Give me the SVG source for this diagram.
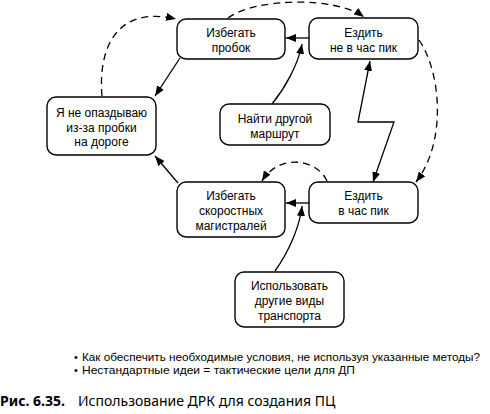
<svg xmlns="http://www.w3.org/2000/svg" width="490" height="414" viewBox="0 0 490 414">
<style>
.box{fill:#fff;stroke:#000;stroke-width:1.4}
.t{font-family:"Liberation Sans","Noto Sans","DejaVu Sans",sans-serif;font-size:12px;fill:#000;text-anchor:middle}
.c{fill:none;stroke:#000;stroke-width:1.3}
.d{fill:none;stroke:#000;stroke-width:1.3;stroke-dasharray:7 5}
.n{font-family:"Liberation Sans","Noto Sans","DejaVu Sans",sans-serif;font-size:10.8px;fill:#000}
.cap{font-family:"Noto Sans","Open Sans","DejaVu Sans",sans-serif;font-size:14px;fill:#000}
</style>
<defs>
<marker id="ah" markerUnits="userSpaceOnUse" markerWidth="10" markerHeight="8" refX="10" refY="4" orient="auto-start-reverse" viewBox="0 0 10 8">
<path d="M0,0 L10,4 L0,8 z" fill="#000"/>
</marker>
</defs>
<g id="connectors">
<path class="c" d="M180,58 L155,96" marker-end="url(#ah)"/>
<path class="c" d="M178,183 L155,156" marker-end="url(#ah)"/>
<path class="c" d="M309,38 L286,38" marker-end="url(#ah)"/>
<path class="c" d="M272,104 C285,88 298,65 302,44" marker-end="url(#ah)"/>
<path class="c" d="M370,61 L358,122 L394,122 L373,182" marker-start="url(#ah)" marker-end="url(#ah)"/>
<path class="d" d="M419,40 C440,70 448,140 416,182" marker-end="url(#ah)"/>
<path class="d" d="M228,18 C255,-2 335,-4 364,17" marker-end="url(#ah)"/>
<path class="d" d="M102,96 C98,50 115,5 176,19" marker-end="url(#ah)"/>
<path class="d" d="M327,181 C318,160 280,152 262,181" marker-end="url(#ah)"/>
<path class="c" d="M309,203 L286,203" marker-end="url(#ah)"/>
<path class="c" d="M275,271 C290,250 300,225 302,206" marker-end="url(#ah)"/>
</g>
<g id="n1"><rect class="box" x="47" y="97" width="109" height="58" rx="9"/>
<text class="t" x="101.5" y="117">Я не опаздываю</text><text class="t" x="101.5" y="131.5">из-за пробки</text><text class="t" x="101.5" y="146">на дороге</text></g>
<g id="n2"><rect class="box" x="177" y="19" width="108" height="40" rx="9"/>
<text class="t" x="231" y="37">Избегать</text><text class="t" x="231" y="52">пробок</text></g>
<g id="n3"><rect class="box" x="309" y="18" width="109" height="41" rx="9"/>
<text class="t" x="363.5" y="37">Ездить</text><text class="t" x="363.5" y="51.5">не в час пик</text></g>
<g id="n4"><rect class="box" x="220" y="104" width="110" height="41" rx="9"/>
<text class="t" x="275" y="123">Найти другой</text><text class="t" x="275" y="138">маршрут</text></g>
<g id="n5"><rect class="box" x="177" y="182" width="108" height="55" rx="9"/>
<text class="t" x="231" y="200">Избегать</text><text class="t" x="231" y="215">скоростных</text><text class="t" x="231" y="229.5">магистралей</text></g>
<g id="n6"><rect class="box" x="309" y="182" width="109" height="41" rx="9"/>
<text class="t" x="363.5" y="200">Ездить</text><text class="t" x="363.5" y="215">в час пик</text></g>
<g id="n7"><rect class="box" x="235" y="272" width="109" height="55" rx="9"/>
<text class="t" x="289.5" y="290">Использовать</text><text class="t" x="289.5" y="305">другие виды</text><text class="t" x="289.5" y="319.5">транспорта</text></g>
<g id="notes">
<text class="n" x="74" y="361">•</text>
<text class="n" x="82" y="361" textLength="398" lengthAdjust="spacingAndGlyphs">Как обеспечить необходимые условия, не используя указанные методы?</text>
<text class="n" x="74" y="373.5">•</text>
<text class="n" x="82" y="373.5" textLength="273" lengthAdjust="spacingAndGlyphs">Нестандартные идеи = тактические цели для ДП</text>
<text class="cap" x="0" y="406"><tspan font-weight="bold">Рис. 6.35.</tspan><tspan x="78">Использование ДРК для создания ПЦ</tspan></text>
</g>
</svg>
